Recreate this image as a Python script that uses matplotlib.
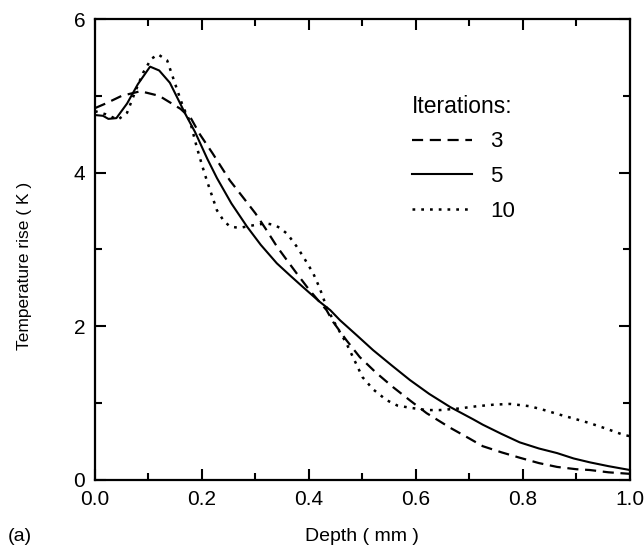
import numpy as np
import matplotlib
matplotlib.use("Agg")
import matplotlib.pyplot as plt
from matplotlib.ticker import MultipleLocator

plt.rcParams.update({
    "font.family": ["Liberation Sans", "DejaVu Sans"],
    "font.size": 14,
})

# --- curvas (profundidade em mm, aumento de temperatura em K) ---
x_it3 = [0.0, 0.02, 0.05, 0.085, 0.12, 0.16, 0.18, 0.196, 0.22, 0.252, 0.28, 0.30,
         0.32, 0.34, 0.36, 0.377, 0.40, 0.433, 0.445, 0.47, 0.495, 0.525, 0.557,
         0.59, 0.62, 0.664, 0.70, 0.725, 0.76, 0.794, 0.83, 0.864, 0.90, 0.925,
         0.96, 1.0]
t_it3 = [4.84, 4.90, 5.00, 5.06, 5.00, 4.83, 4.70, 4.50, 4.25, 3.90, 3.65, 3.47,
         3.26, 3.04, 2.85, 2.69, 2.48, 2.21, 2.06, 1.82, 1.60, 1.40, 1.21,
         1.03, 0.87, 0.68, 0.54, 0.44, 0.36, 0.29, 0.22, 0.17, 0.14, 0.13,
         0.10, 0.08]

x_it5 = [0.0, 0.015, 0.025, 0.04, 0.06, 0.08, 0.103, 0.12, 0.14, 0.17, 0.187, 0.21,
         0.228, 0.255, 0.284, 0.31, 0.34, 0.365, 0.389, 0.42, 0.44, 0.458, 0.49,
         0.52, 0.555, 0.589, 0.625, 0.664, 0.707, 0.725, 0.76, 0.794, 0.83, 0.864,
         0.895, 0.925, 0.96, 1.0]
t_it5 = [4.75, 4.74, 4.70, 4.71, 4.90, 5.15, 5.38, 5.33, 5.17, 4.75, 4.53, 4.18,
         3.93, 3.60, 3.30, 3.06, 2.82, 2.66, 2.51, 2.32, 2.21, 2.08, 1.88,
         1.69, 1.49, 1.30, 1.12, 0.95, 0.79, 0.72, 0.60, 0.49, 0.41, 0.35,
         0.28, 0.23, 0.18, 0.13]

x_it10 = [0.0, 0.02, 0.043, 0.06, 0.075, 0.09, 0.105, 0.118, 0.135, 0.155, 0.165,
          0.178, 0.19, 0.20, 0.209, 0.228, 0.24, 0.252, 0.27, 0.284, 0.30, 0.32,
          0.335, 0.346, 0.36, 0.377, 0.39, 0.408, 0.42, 0.433, 0.45, 0.47, 0.485,
          0.50, 0.52, 0.545, 0.565, 0.589, 0.62, 0.645, 0.68, 0.714, 0.745, 0.776,
          0.813, 0.84, 0.869, 0.90, 0.925, 0.955, 0.987, 1.0]
t_it10 = [4.80, 4.76, 4.69, 4.78, 5.05, 5.30, 5.48, 5.54, 5.46, 5.05, 4.85,
          4.66, 4.34, 4.10, 3.90, 3.51, 3.38, 3.30, 3.28, 3.30, 3.32, 3.34,
          3.32, 3.28, 3.20, 3.04, 2.90, 2.69, 2.50, 2.25, 2.02, 1.78, 1.56,
          1.34, 1.18, 1.04, 0.97, 0.94, 0.91, 0.91, 0.93, 0.96, 0.98, 0.99,
          0.96, 0.91, 0.85, 0.79, 0.74, 0.67, 0.59, 0.57]

fig = plt.figure(figsize=(6.44, 5.54), dpi=100)
ax = fig.add_axes([0.1475, 0.1336, 0.8305, 0.8321])

ax.plot(x_it3, t_it3, "k", ls=(0, (5, 3)), lw=1.6, label="3")
ax.plot(x_it5, t_it5, "k-", lw=1.5, label="5")
ax.plot(x_it10, t_it10, "k", ls=(0, (1.1, 2.4)), lw=1.8, label="10")

ax.set_xlim(0, 1.0); ax.set_ylim(0, 6)
ax.xaxis.set_major_locator(MultipleLocator(0.2))
ax.xaxis.set_minor_locator(MultipleLocator(0.1))
ax.yaxis.set_major_locator(MultipleLocator(2))
ax.yaxis.set_minor_locator(MultipleLocator(1))
ax.xaxis.set_major_formatter(plt.FormatStrFormatter("%.1f"))
ax.tick_params(which="both", direction="in", top=True, right=True, width=1.5,
               labelsize=15, pad=7)
ax.tick_params(which="major", length=8)
ax.tick_params(which="minor", length=5)
for s in ax.spines.values():
    s.set_linewidth(1.6)

ax.set_xlabel("Depth ( mm )", fontsize=14)
ax.set_ylabel("Temperature rise ( K )", fontsize=12.5)
ax.xaxis.set_label_coords(0.5, -0.105)
ax.yaxis.set_label_coords(-0.118, 0.464)

leg = ax.legend(title="Iterations:", frameon=False, loc="upper left",
                bbox_to_anchor=(0.593, 0.836), handlelength=2.7, handletextpad=0.8,
                labelspacing=0.62, fontsize=16, title_fontsize=16.5,
                alignment="left", borderaxespad=0, borderpad=0)

fig.text(0.012, 0.031, "(a)", fontsize=14, va="center")

fig.savefig("out.png", dpi=100)
